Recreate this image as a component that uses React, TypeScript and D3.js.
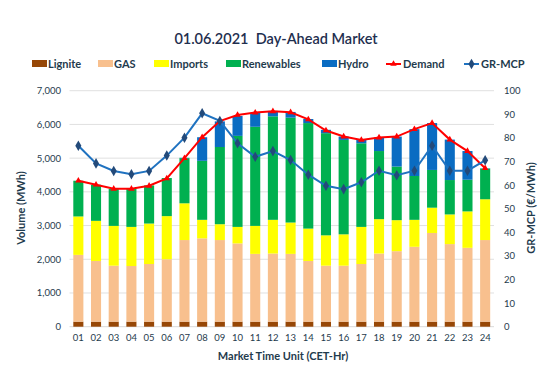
import React from "react";
import * as d3 from "d3";

const hours = ["01","02","03","04","05","06","07","08","09","10","11","12","13","14","15","16","17","18","19","20","21","22","23","24"];
const lignite = [150,150,150,150,150,150,150,150,150,150,150,150,150,150,150,150,150,150,150,150,150,150,150,150];
const gas = [1980,1800,1660,1650,1710,1850,2420,2470,2420,2320,2010,2020,2010,1800,1660,1660,1710,2020,2090,2220,2630,2300,2190,2420];
const imports = [1140,1190,1180,1160,1200,1280,1090,550,470,490,830,1000,930,960,900,930,1100,1020,920,800,750,880,1080,1210];
const renewables = [1060,1070,1100,1130,1130,1130,1340,1750,2290,2700,2940,3070,3110,3130,3030,2800,2480,2020,1590,1300,1120,1020,940,910];
const hydro = [0,0,0,0,0,0,10,700,760,590,410,160,170,120,100,100,100,400,890,1390,1390,1200,850,10];
const demand = [4330,4210,4090,4090,4180,4400,5000,5620,6100,6280,6350,6390,6360,6150,5820,5640,5540,5610,5640,5860,6040,5550,5210,4700];
const mcp = [76.7,69.2,66.0,64.6,66.0,72.5,80.1,90.4,87.2,77.7,72.0,74.4,70.6,64.4,59.7,58.3,61.2,66.1,64.2,66.1,76.7,66.1,66.1,70.5];
const leftTicks = [0,1000,2000,3000,4000,5000,6000,7000];
const rightTicks = [0,10,20,30,40,50,60,70,80,90,100];

const seriesNames = ["Lignite","GAS","Imports","Renewables","Hydro"];
const seriesData = [lignite, gas, imports, renewables, hydro];
const colors = ["#974706","#F8C08E","#FFFF00","#00B050","#0A6CC2"];

const W = 549, H = 383;
const left = 69.5, right = 494, top = 90.7, bottom = 326.7;
const textCol = "#1f3b4d";
const font = "Lato, 'Open Sans', sans-serif";

export default function App() {
  const x = d3.scaleBand<string>().domain(hours).range([left, right]).paddingInner(0.43).paddingOuter(0.215);
  const yL = d3.scaleLinear().domain([0, 7000]).range([bottom, top]);
  const yR = d3.scaleLinear().domain([0, 100]).range([bottom, top]);
  const table = hours.map((h, i) => {
    const o: any = { h };
    seriesNames.forEach((s, k) => (o[s] = seriesData[k][i]));
    return o;
  });
  const stack = d3.stack().keys(seriesNames)(table);
  const bw = x.bandwidth();
  const cx = (h: string) => (x(h) as number) + bw / 2;
  const demandLine = d3.line<number>().x((_, i) => cx(hours[i])).y((d) => yL(d))(demand) as string;
  const mcpLine = d3.line<number>().x((_, i) => cx(hours[i])).y((d) => yR(d))(mcp) as string;

  const legendRects = [
    { name: "Lignite", sx: 32, tx: 48, c: colors[0] },
    { name: "GAS", sx: 98, tx: 114, c: colors[1] },
    { name: "Imports", sx: 154, tx: 170, c: colors[2] },
    { name: "Renewables", sx: 226, tx: 242, c: colors[3] },
    { name: "Hydro", sx: 322, tx: 338, c: colors[4] },
  ];
  const ly = 64;
  const diamond = d3.symbol().type(d3.symbolDiamond).size(32)() as string;
  const tri = d3.symbol().type(d3.symbolTriangle).size(18)() as string;

  return (
    <svg width={W} height={H} style={{ position: "absolute", left: 0, top: 0, background: "#fff" }} fontFamily={font}>
      <rect width={W} height={H} fill="#fff" />
      <text x={276} y={43.5} textAnchor="middle" fontSize={14.5} fontWeight={600} fill="#1f2f4f" style={{ whiteSpace: "pre" }}>{"01.06.2021  Day-Ahead Market"}</text>
      {leftTicks.map((t) => (
        <g key={t}>
          {t > 0 && <line x1={left} x2={right} y1={yL(t)} y2={yL(t)} stroke="#e0e0e0" strokeWidth={1} />}
          <text x={61} y={yL(t) + 3.5} textAnchor="end" fontSize={9.5} fill={textCol}>{d3.format(",")(t)}</text>
        </g>
      ))}
      <line x1={left} x2={right} y1={bottom} y2={bottom} stroke="#d9d9d9" strokeWidth={1} />
      {rightTicks.map((t) => (
        <text key={t} x={504} y={yR(t) + 3.5} textAnchor="start" fontSize={9.5} fill={textCol}>{t}</text>
      ))}
      {stack.map((layer, k) => (
        <g key={layer.key} fill={colors[k]}>
          {layer.map((d, i) => {
            const h = yL(d[0]) - yL(d[1]);
            return h > 0 ? <rect key={i} x={x(hours[i])} y={yL(d[1])} width={bw} height={h} /> : null;
          })}
        </g>
      ))}
      <path d={demandLine} fill="none" stroke="#ff0000" strokeWidth={2} />
      {demand.map((d, i) => (
        <path key={i} d={tri} transform={`translate(${cx(hours[i])},${yL(d)})`} fill="#ff0000" />
      ))}
      <path d={mcpLine} fill="none" stroke="#1f72c0" strokeWidth={2} />
      {mcp.map((d, i) => (
        <path key={i} d={diamond} transform={`translate(${cx(hours[i])},${yR(d)})`} fill="#234a7a" />
      ))}
      {hours.map((h) => (
        <text key={h} x={cx(h)} y={341} textAnchor="middle" fontSize={9.5} fill={textCol}>{h}</text>
      ))}
      <text x={283} y={360} textAnchor="middle" fontSize={11} fontWeight={700} fill={textCol}>Market Time Unit (CET-Hr)</text>
      <text transform={`translate(25,208) rotate(-90)`} textAnchor="middle" fontSize={11} fontWeight={700} fill={textCol}>Volume (MWh)</text>
      <text transform={`translate(535,208) rotate(-90)`} textAnchor="middle" fontSize={11} fontWeight={700} fill={textCol}>GR-MCP (€/MWh)</text>
      {legendRects.map((l) => (
        <g key={l.name}>
          <rect x={l.sx} y={ly - 4} width={15} height={7} fill={l.c} />
          <text x={l.tx} y={ly + 4} fontSize={11} fontWeight={700} fill={textCol}>{l.name}</text>
        </g>
      ))}
      <line x1={386} x2={401} y1={ly} y2={ly} stroke="#ff0000" strokeWidth={2} />
      <path d={tri} transform={`translate(393.5,${ly})`} fill="#ff0000" />
      <text x={403} y={ly + 4} fontSize={11} fontWeight={700} fill={textCol}>Demand</text>
      <line x1={464} x2={479} y1={ly} y2={ly} stroke="#1f72c0" strokeWidth={2} />
      <path d={diamond} transform={`translate(471.5,${ly})`} fill="#234a7a" />
      <text x={481} y={ly + 4} fontSize={11} fontWeight={700} fill={textCol}>GR-MCP</text>
    </svg>
  );
}
